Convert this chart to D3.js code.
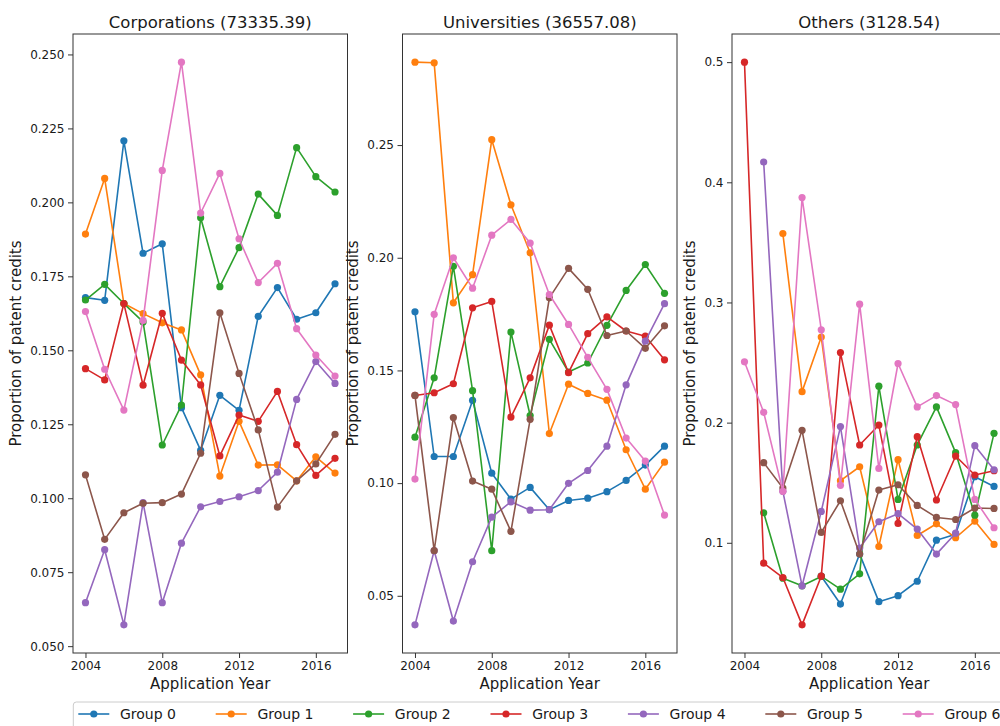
<!DOCTYPE html>
<html>
<head>
<meta charset="utf-8">
<script src="https://cdn.jsdelivr.net/npm/d3@7"></script>
<style>
  html, body { margin: 0; padding: 0; background: #fff; }
  svg { display: block; font-family: "DejaVu Sans", sans-serif; }
</style>
</head>
<body>
<svg id="chart" width="1000" height="726"></svg>
<script>
// ---------------- data ----------------
const years = [2004, 2005, 2006, 2007, 2008, 2009, 2010, 2011, 2012, 2013, 2014, 2015, 2016, 2017];
const groupNames = ["Group 0", "Group 1", "Group 2", "Group 3", "Group 4", "Group 5", "Group 6"];
const groupColors = ["#1f77b4", "#ff7f0e", "#2ca02c", "#d62728", "#9467bd", "#8c564b", "#e377c2"];
const panelTitles = ["Corporations (73335.39)", "Universities (36557.08)", "Others (3128.54)"];
const xTickValues = [2004, 2008, 2012, 2016];
const yTicksCorporations = [0.050, 0.075, 0.100, 0.125, 0.150, 0.175, 0.200, 0.225, 0.250];
const yTicksUniversities = [0.05, 0.10, 0.15, 0.20, 0.25];
const yTicksOthers = [0.1, 0.2, 0.3, 0.4, 0.5];
const yTickFormats = [".3f", ".2f", ".1f"];
const xLabel = "Application Year";
const yLabel = "Proportion of patent credits";

const corporations = [
  [0.1678, 0.1669, 0.2208, 0.1828, 0.1860, 0.1306, 0.1162, 0.1348, 0.1297, 0.1615, 0.1712, 0.1605, 0.1627, 0.1725],
  [0.1893, 0.2081, 0.1658, 0.1624, 0.1593, 0.1569, 0.1417, 0.1075, 0.1260, 0.1112, 0.1113, 0.1059, 0.1140, 0.1085],
  [0.1670, 0.1723, 0.1658, 0.1596, 0.1180, 0.1315, 0.1948, 0.1715, 0.1847, 0.2028, 0.1956, 0.2185, 0.2087, 0.2035],
  [0.1438, 0.1400, 0.1658, 0.1382, 0.1625, 0.1467, 0.1383, 0.1143, 0.1281, 0.1260, 0.1361, 0.1181, 0.1077, 0.1135],
  [0.0647, 0.0826, 0.0572, 0.0985, 0.0647, 0.0848, 0.0971, 0.0989, 0.1005, 0.1026, 0.1088, 0.1334, 0.1462, 0.1388],
  [0.1079, 0.0861, 0.0951, 0.0983, 0.0985, 0.1014, 0.1152, 0.1627, 0.1422, 0.1231, 0.0970, 0.1059, 0.1116, 0.1216],
  [0.1631, 0.1436, 0.1298, 0.1601, 0.2108, 0.2474, 0.1964, 0.2098, 0.1877, 0.1729, 0.1794, 0.1573, 0.1484, 0.1413]
];
const universities = [
  [0.1760, 0.1118, 0.1118, 0.1367, 0.1044, 0.0929, 0.0981, 0.0882, 0.0923, 0.0933, 0.0962, 0.1012, 0.1080, 0.1164],
  [0.2868, 0.2865, 0.1800, 0.1925, 0.2524, 0.2235, 0.2022, 0.1220, 0.1439, 0.1398, 0.1368, 0.1148, 0.0973, 0.1093],
  [0.1204, 0.1467, 0.1962, 0.1410, 0.0700, 0.1670, 0.1300, 0.1638, 0.1493, 0.1533, 0.1700, 0.1855, 0.1970, 0.1842],
  [0.1389, 0.1401, 0.1441, 0.1778, 0.1806, 0.1293, 0.1467, 0.1701, 0.1490, 0.1663, 0.1738, 0.1675, 0.1652, 0.1547],
  [0.0371, 0.0700, 0.0388, 0.0651, 0.0849, 0.0917, 0.0880, 0.0882, 0.0999, 0.1056, 0.1164, 0.1436, 0.1630, 0.1796],
  [0.1389, 0.0700, 0.1291, 0.1009, 0.0973, 0.0786, 0.1283, 0.1822, 0.1953, 0.1860, 0.1655, 0.1675, 0.1598, 0.1698],
  [0.1018, 0.1749, 0.2000, 0.1865, 0.2100, 0.2170, 0.2065, 0.1837, 0.1704, 0.1558, 0.1416, 0.1200, 0.1098, 0.0858]
];
const others = [
  [null, null, null, null, 0.0722, 0.0490, 0.0906, 0.0510, 0.0560, 0.0680, 0.1022, 0.1072, 0.1550, 0.1469],
  [null, null, 0.3573, 0.2258, 0.2712, 0.1517, 0.1633, 0.0969, 0.1692, 0.1061, 0.1158, 0.1042, 0.1181, 0.0986],
  [null, 0.1250, 0.0705, 0.0642, 0.0720, 0.0614, 0.0742, 0.2303, 0.1361, 0.1814, 0.2131, 0.1750, 0.1230, 0.1911],
  [0.5000, 0.0830, 0.0711, 0.0317, 0.0722, 0.2583, 0.1814, 0.1980, 0.1161, 0.1883, 0.1356, 0.1722, 0.1564, 0.1600],
  [null, 0.4169, 0.1428, 0.0642, 0.1261, 0.1967, 0.0956, 0.1175, 0.1242, 0.1114, 0.0906, 0.1080, 0.1808, 0.1608],
  [null, 0.1667, 0.1456, 0.1936, 0.1086, 0.1350, 0.0906, 0.1439, 0.1483, 0.1311, 0.1211, 0.1194, 0.1289, 0.1286],
  [0.2506, 0.2086, 0.1428, 0.3873, 0.2773, 0.1478, 0.2986, 0.1619, 0.2492, 0.2131, 0.2225, 0.2150, 0.1361, 0.1125]
];

// ---------------- layout ----------------
const panels = [
  { data: corporations, yTicks: yTicksCorporations },
  { data: universities, yTicks: yTicksUniversities },
  { data: others, yTicks: yTicksOthers }
];
const panelLefts = [73, 402.5, 732];
const panelTop = 34, panelW = 274.5, panelH = 619;
const textColor = "#1a1a1a";

const svg = d3.select("#chart");
svg.append("rect").attr("width", 1000).attr("height", 726).attr("fill", "#fff");

panels.forEach((p, pi) => {
  const g = svg.append("g").attr("transform", `translate(${panelLefts[pi]},${panelTop})`);

  const xPad = (years[years.length - 1] - years[0]) * 0.05;
  const x = d3.scaleLinear()
    .domain([years[0] - xPad, years[years.length - 1] + xPad])
    .range([0, panelW]);

  const allVals = p.data.flat().filter(v => v != null);
  const ymin = d3.min(allVals), ymax = d3.max(allVals);
  const yPad = (ymax - ymin) * 0.05;
  const y = d3.scaleLinear().domain([ymin - yPad, ymax + yPad]).range([panelH, 0]);

  // axes
  const xAxis = g.append("g").attr("transform", `translate(0,${panelH})`)
    .call(d3.axisBottom(x).tickValues(xTickValues).tickFormat(d3.format("d")).tickSize(5).tickPadding(3.5));
  const yAxis = g.append("g")
    .call(d3.axisLeft(y).tickValues(p.yTicks).tickFormat(d3.format(yTickFormats[pi])).tickSize(5).tickPadding(3.5));
  [xAxis, yAxis].forEach(a => {
    a.select(".domain").remove();
    a.selectAll(".tick line").attr("stroke", "#333").attr("stroke-width", 1);
    a.selectAll(".tick text").attr("fill", textColor).style("font-size", "12px")
      .style("font-family", "'DejaVu Sans', sans-serif");
  });

  // series
  const line = d3.line()
    .defined(d => d.v != null)
    .x(d => x(d.year))
    .y(d => y(d.v));

  p.data.forEach((series, si) => {
    const pts = years.map((yr, i) => ({ year: yr, v: series[i] }));
    g.append("path")
      .datum(pts)
      .attr("fill", "none")
      .attr("stroke", groupColors[si])
      .attr("stroke-width", 1.6)
      .attr("stroke-linejoin", "round")
      .attr("d", line);
    g.append("g").selectAll("circle")
      .data(pts.filter(d => d.v != null))
      .join("circle")
      .attr("cx", d => x(d.year))
      .attr("cy", d => y(d.v))
      .attr("r", 3.6)
      .attr("fill", groupColors[si]);
  });

  // frame
  g.append("rect").attr("x", 0).attr("y", 0).attr("width", panelW).attr("height", panelH)
    .attr("fill", "none").attr("stroke", "#333").attr("stroke-width", 1);

  // title
  g.append("text").attr("x", panelW / 2).attr("y", 28 - panelTop)
    .attr("text-anchor", "middle").attr("fill", textColor)
    .style("font-size", "16.5px").text(panelTitles[pi]);

  // x label
  g.append("text").attr("x", panelW / 2).attr("y", 689 - panelTop)
    .attr("text-anchor", "middle").attr("fill", textColor)
    .style("font-size", "15px").text(xLabel);

  // y label
  let maxW = 0;
  yAxis.selectAll(".tick text").each(function () { maxW = Math.max(maxW, this.getBBox().width); });
  const yl = -(5 + 3.5 + maxW + 9);
  g.append("text")
    .attr("transform", `translate(${yl},${panelH / 2}) rotate(-90)`)
    .attr("text-anchor", "middle").attr("fill", textColor)
    .style("font-size", "15px").text(yLabel);
});

// ---------------- legend ----------------
const legend = svg.append("g");
legend.append("rect").attr("x", 73.3).attr("y", 702).attr("width", 940).attr("height", 40)
  .attr("rx", 3).attr("fill", "#fff").attr("stroke", "#cccccc").attr("stroke-width", 1);
groupNames.forEach((name, i) => {
  const lx = 78.3 + i * 137.4;
  const ly = 714;
  legend.append("line").attr("x1", lx).attr("x2", lx + 31).attr("y1", ly).attr("y2", ly)
    .attr("stroke", groupColors[i]).attr("stroke-width", 1.6);
  legend.append("circle").attr("cx", lx + 15.5).attr("cy", ly).attr("r", 3.6).attr("fill", groupColors[i]);
  legend.append("text").attr("x", lx + 41.7).attr("y", 719).attr("fill", textColor)
    .style("font-size", "14px").text(name);
});
</script>
</body>
</html>
